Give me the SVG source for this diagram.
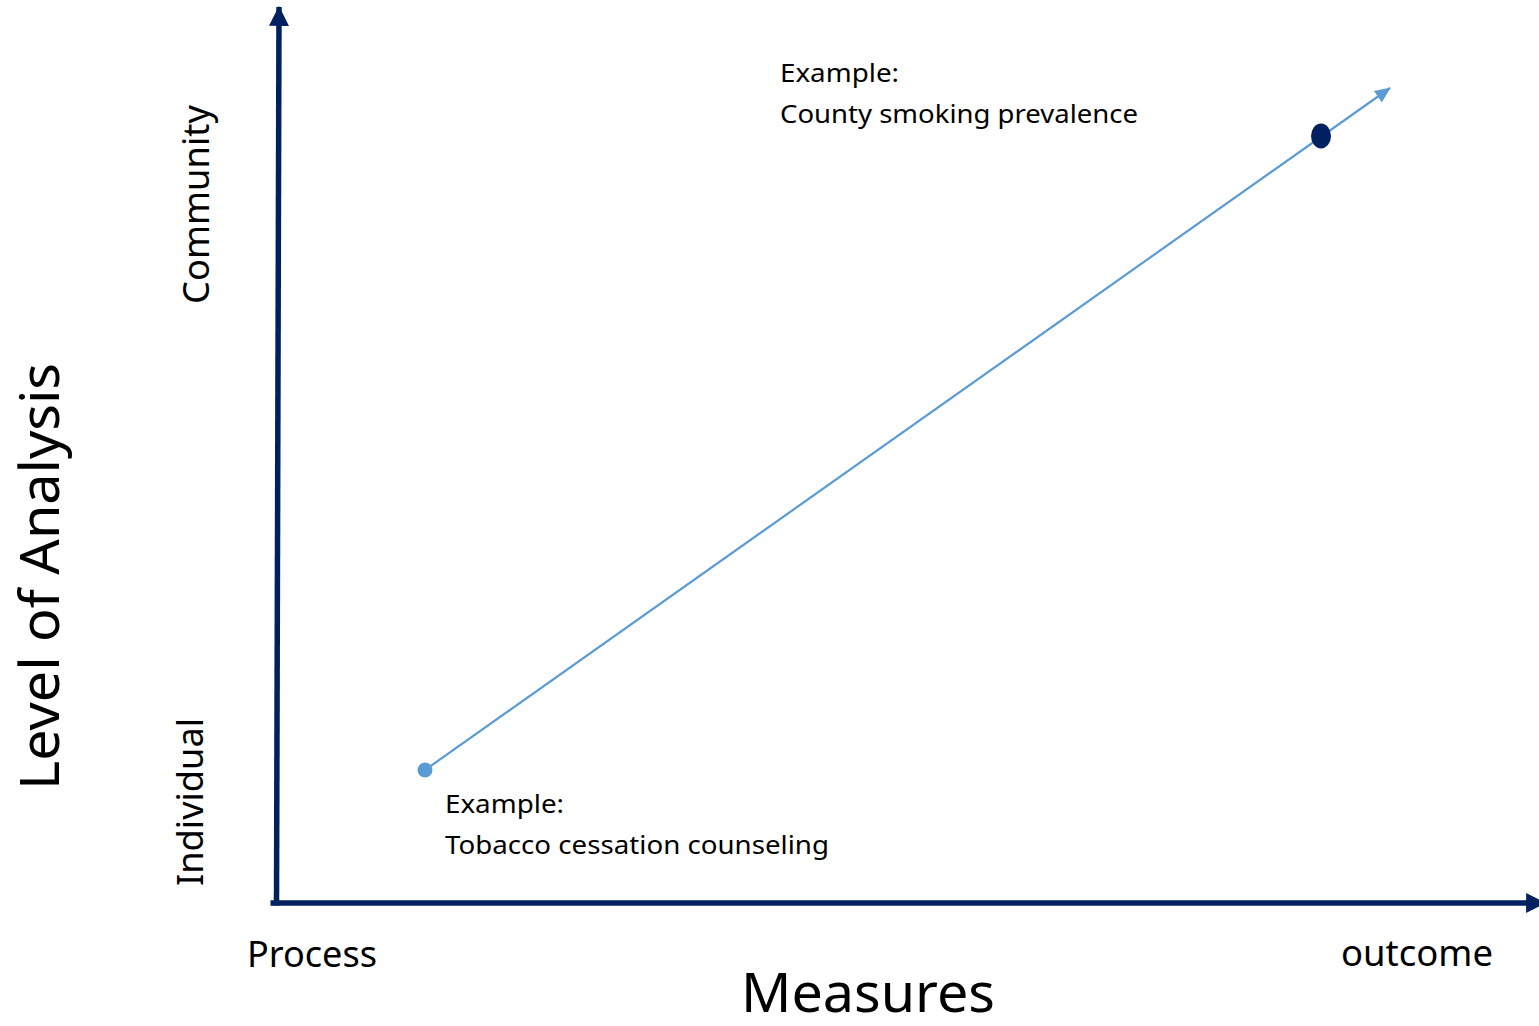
<svg xmlns="http://www.w3.org/2000/svg" width="1539" height="1026" viewBox="0 0 1539 1026">
  <style>
    text { font-family: "Noto Sans", "Open Sans", sans-serif; fill: #000; }
    .axis { stroke: #002060; stroke-width: 5.5; fill: none; }
    .trend { stroke: #5B9BD5; stroke-width: 2.2; fill: none; }
    .lbl { font-size: 36px; }
    .big { font-size: 54px; }
    .ex { font-size: 26px; }
  </style>
  <defs>
    <marker id="navyHead" markerUnits="userSpaceOnUse" markerWidth="20" markerHeight="20" viewBox="0 0 18 18" refX="17" refY="9" orient="auto">
      <path d="M0,0 L18,9 L0,18 Z" fill="#002060"/>
    </marker>
    <marker id="blueHead" markerUnits="userSpaceOnUse" markerWidth="16" markerHeight="14" viewBox="0 0 16 14" refX="15" refY="7" orient="auto">
      <path d="M0,0 L16,7 L0,14 Z" fill="#5B9BD5"/>
    </marker>
  </defs>
  <rect width="1539" height="1026" fill="#fff"/>

  <g id="connectors">
    <line id="y-axis" class="axis" x1="276.5" y1="905.5" x2="279" y2="7" marker-end="url(#navyHead)"/>
    <line id="x-axis" class="axis" x1="270.5" y1="903" x2="1545" y2="903" marker-end="url(#navyHead)"/>
    <line id="trend-line" class="trend" x1="425" y1="770" x2="1390" y2="88" marker-end="url(#blueHead)"/>
  </g>

  <g id="node-individual-point">
    <circle cx="425" cy="770" r="7.5" fill="#5B9BD5"/>
  </g>
  <g id="node-community-point">
    <ellipse cx="1321" cy="136" rx="10" ry="12.5" fill="#002060"/>
  </g>

  <g id="label-level">
    <text class="big" transform="translate(59,790) rotate(-90)" textLength="427" lengthAdjust="spacingAndGlyphs">Level of Analysis</text>
  </g>
  <g id="label-community">
    <text class="lbl" transform="translate(209,304) rotate(-90)" textLength="199" lengthAdjust="spacingAndGlyphs">Community</text>
  </g>
  <g id="label-individual">
    <text class="lbl" transform="translate(203,886) rotate(-90)" textLength="168" lengthAdjust="spacingAndGlyphs">Individual</text>
  </g>
  <g id="label-process">
    <text class="lbl" x="247" y="967" textLength="130" lengthAdjust="spacingAndGlyphs">Process</text>
  </g>
  <g id="label-outcome">
    <text class="lbl" x="1341" y="966" textLength="152" lengthAdjust="spacingAndGlyphs">outcome</text>
  </g>
  <g id="label-measures">
    <text class="big" x="741" y="1012" textLength="254" lengthAdjust="spacingAndGlyphs">Measures</text>
  </g>
  <g id="example-community">
    <text class="ex" x="780" y="82" textLength="119" lengthAdjust="spacingAndGlyphs">Example:</text>
    <text class="ex" x="780" y="123" textLength="358" lengthAdjust="spacingAndGlyphs">County smoking prevalence</text>
  </g>
  <g id="example-individual">
    <text class="ex" x="445" y="813" textLength="119" lengthAdjust="spacingAndGlyphs">Example:</text>
    <text class="ex" x="445" y="854" textLength="384" lengthAdjust="spacingAndGlyphs">Tobacco cessation counseling</text>
  </g>
</svg>
